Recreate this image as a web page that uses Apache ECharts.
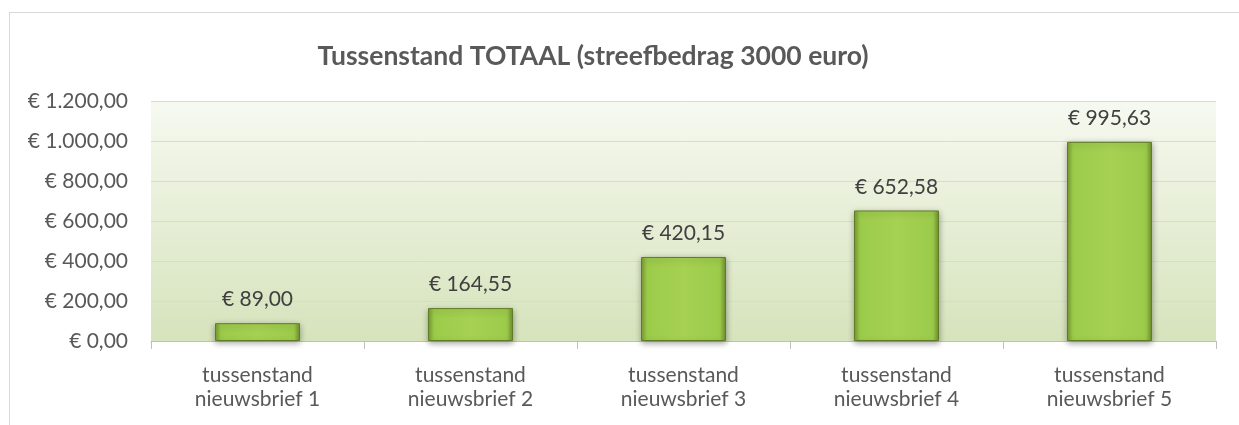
<!DOCTYPE html>
<html>
<head>
<meta charset="utf-8">
<script src="https://cdn.jsdelivr.net/npm/echarts@6/dist/echarts.min.js"></script>
<style>
  html, body { margin: 0; padding: 0; background: #fff; }
  #frame { position: absolute; left: 9px; top: 12px; width: 1240px; height: 420px; border: 1px solid #d9d9d9; box-sizing: border-box; }
  #chart { position: absolute; left: 0; top: 0; width: 1239px; height: 425px; }
</style>
</head>
<body>
<div id="frame"></div>
<div id="chart"></div>
<script>
var categories = ['tussenstand\nnieuwsbrief 1', 'tussenstand\nnieuwsbrief 2', 'tussenstand\nnieuwsbrief 3', 'tussenstand\nnieuwsbrief 4', 'tussenstand\nnieuwsbrief 5'];
var totals = [89.00, 164.55, 420.15, 652.58, 995.63];
var yTicks = { min: 0, max: 1200, interval: 200 };

// € 1.200,00 style
function euro(v) {
    var parts = v.toFixed(2).split('.');
    var whole = parts[0].replace(/\B(?=(\d{3})+(?!\d))/g, '.');
    return '€ ' + whole + ',' + parts[1];
}

var myChart = echarts.init(document.getElementById('chart'));
var option = {
    animation: false,
    title: {
        text: 'Tussenstand TOTAAL (streefbedrag 3000 euro)',
        left: 588,
        top: 38,
        textAlign: 'center',
        textStyle: {
            fontFamily: 'Lato',
            fontWeight: 'bold',
            fontSize: 26.5,
            color: '#595959'
        }
    },
    grid: {
        left: 151,
        right: 23,
        top: 101,
        bottom: 84,
        show: true,
        borderWidth: 0,
        backgroundColor: {
            type: 'linear', x: 0, y: 0, x2: 0, y2: 1,
            colorStops: [
                { offset: 0, color: '#f6f9f0' },
                { offset: 1, color: '#d6e3bc' }
            ]
        }
    },
    xAxis: {
        type: 'category',
        data: categories,
        axisLine: { lineStyle: { color: '#bfbfbf', width: 1 } },
        axisTick: { show: true, length: 8, lineStyle: { color: '#bfbfbf' } },
        axisLabel: {
            margin: 22,
            lineHeight: 24,
            fontFamily: 'Lato',
            fontSize: 21,
            color: '#595959'
        }
    },
    yAxis: {
        type: 'value',
        min: yTicks.min,
        max: yTicks.max,
        interval: yTicks.interval,
        axisLine: { show: false },
        axisTick: { show: false },
        splitLine: { lineStyle: { color: '#d9d9d9', width: 1 } },
        axisLabel: {
            margin: 23,
            fontFamily: 'Lato',
            fontSize: 21,
            color: '#595959',
            formatter: euro
        }
    },
    series: [{
        type: 'bar',
        data: totals,
        barWidth: 85,
        itemStyle: {
            color: {
                type: 'linear', x: 0, y: 0, x2: 1, y2: 0,
                colorStops: [
                    { offset: 0, color: '#789a33' },
                    { offset: 0.07, color: '#9ccb4a' },
                    { offset: 0.5, color: '#a6d152' },
                    { offset: 0.93, color: '#9ccb4a' },
                    { offset: 1, color: '#6f8f2e' }
                ]
            },
            borderColor: '#5f7d27',
            borderWidth: 1,
            shadowColor: 'rgba(0,0,0,0.35)',
            shadowBlur: 6,
            shadowOffsetY: 2
        },
        label: {
            show: true,
            position: 'top',
            distance: 13,
            fontFamily: 'Lato',
            fontSize: 21,
            color: '#404040',
            formatter: function (p) { return euro(p.value); }
        }
    }]
};
myChart.setOption(option);
</script>
</body>
</html>
